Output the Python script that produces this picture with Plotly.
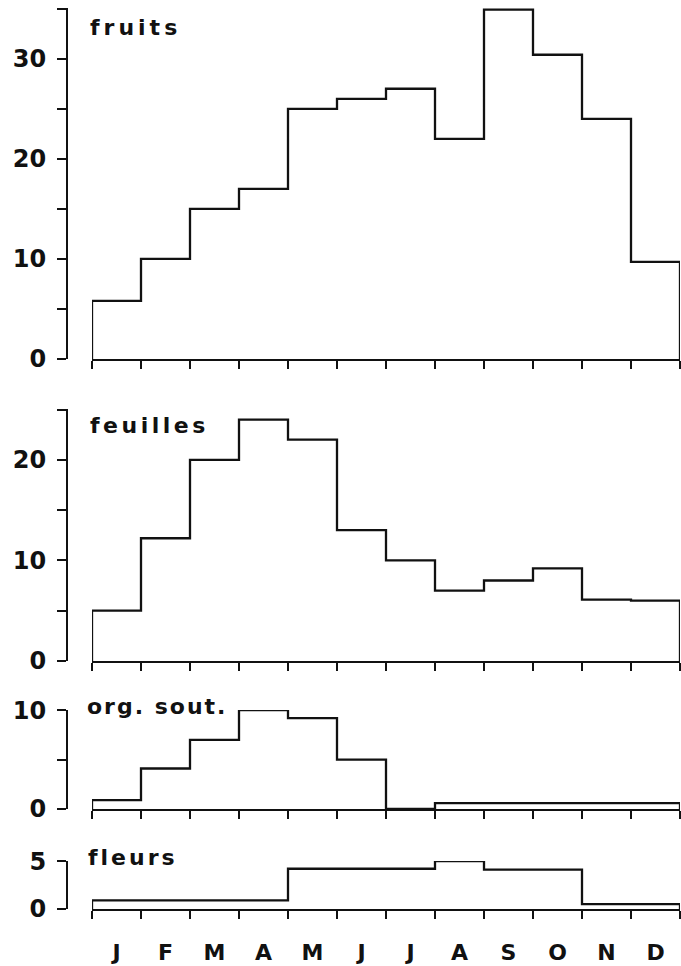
import plotly.graph_objects as go

# ---- data ----
months = ["J", "F", "M", "A", "M", "J", "J", "A", "S", "O", "N", "D"]
fruits = [5.8, 10, 15, 17, 25, 26, 27, 22, 34.9, 30.4, 24, 9.7]
feuilles = [5, 12.2, 20, 24, 22, 13, 10, 7, 8, 9.2, 6.1, 6]
org_sout = [0.9, 4.1, 7, 10, 9.2, 5, 0, 0.6, 0.6, 0.6, 0.6, 0.6]
fleurs = [0.9, 0.9, 0.9, 0.9, 4.2, 4.2, 4.2, 5, 4.1, 4.1, 0.5, 0.5]
panel_names = ["fruits", "feuilles", "org. sout.", "fleurs"]
series = [fruits, feuilles, org_sout, fleurs]
y_max = [35, 25, 10, 5]
y_tickvals = [[0, 5, 10, 15, 20, 25, 30, 35], [0, 5, 10, 15, 20, 25], [0, 5, 10], [0, 5]]
y_ticktext = [["0", "", "10", "", "20", "", "30", ""], ["0", "", "10", "", "20", ""], ["0", "", "10"], ["0", "5"]]

# ---- layout (page pixels) ----
W, H = 681, 966
panel_px = [(8, 359), (409, 661), (710, 809), (861, 909)]  # top, bottom
x_left, x_right, yaxis_x = 92, 680, 67
title_x = [88, 88, 85, 86]
title_top = [13, 411, 692, 843]
title_spacing = [4, 3.5, 2, 3]
INK = "#111111"
FONT = "DejaVu Sans"


def px_x(p):
    return min(1.0, max(0.0, p / W))


def px_y(p):
    return min(1.0, max(0.0, 1 - p / H))


fig = go.Figure()
layout = dict(
    width=W, height=H, margin=dict(l=0, r=0, t=0, b=0, autoexpand=False),
    paper_bgcolor="white", plot_bgcolor="white", showlegend=False,
    font=dict(family=FONT, color=INK),
)
annotations = []

n = len(months)
for i, (vals, name) in enumerate(zip(series, panel_names)):
    k = "" if i == 0 else str(i + 1)
    xs = [0] + list(range(n)) + [n, n]
    ys = [0] + list(vals) + [vals[-1], 0]
    fig.add_trace(go.Scatter(
        x=xs, y=ys, mode="lines", line=dict(color=INK, width=2.3, shape="hv"),
        xaxis="x" + k, yaxis="y" + k, hoverinfo="skip", cliponaxis=False,
    ))
    top, bot = panel_px[i]
    last = i == len(series) - 1
    layout["xaxis" + k] = dict(
        domain=[px_x(x_left), px_x(x_right)], range=[0, n], anchor="y" + k,
        automargin=False,
        showline=True, linecolor=INK, linewidth=2.3, showgrid=False, zeroline=False,
        tickvals=[j + 0.5 for j in range(n)],
        ticktext=months if last else [""] * n,
        showticklabels=last, ticks="", ticklen=0,
        tickfont=dict(family=FONT, size=22, color=INK, weight=700),
        ticklabelstandoff=22,
        minor=dict(ticks="outside", ticklen=8, tickwidth=2, tickcolor=INK,
                   tick0=0, dtick=1, showgrid=False),
        fixedrange=True,
    )
    layout["yaxis" + k] = dict(
        domain=[px_y(bot), px_y(top)], range=[0, y_max[i] * 1.002],
        anchor="free", position=px_x(yaxis_x), automargin=False,
        showline=True, linecolor=INK, linewidth=2.3, showgrid=False, zeroline=False,
        tickvals=y_tickvals[i], ticktext=y_ticktext[i],
        ticks="outside", ticklen=9, tickwidth=2, tickcolor=INK,
        tickfont=dict(family=FONT, size=24, color=INK, weight=700),
        ticklabelstandoff=6,
        fixedrange=True,
    )
    annotations.append(dict(
        text='<span style="letter-spacing:%spx">%s</span>' % (title_spacing[i], name),
        xref="paper", yref="paper", x=px_x(title_x[i]), y=px_y(title_top[i]),
        xanchor="left", yanchor="top", showarrow=False,
        font=dict(family=FONT, size=22, color=INK, weight=700),
    ))

layout["annotations"] = annotations
fig.update_layout(**layout)
fig.write_html("out.html", config={"displayModeBar": False, "staticPlot": True},
               post_script="document.body.style.margin='0px';")
